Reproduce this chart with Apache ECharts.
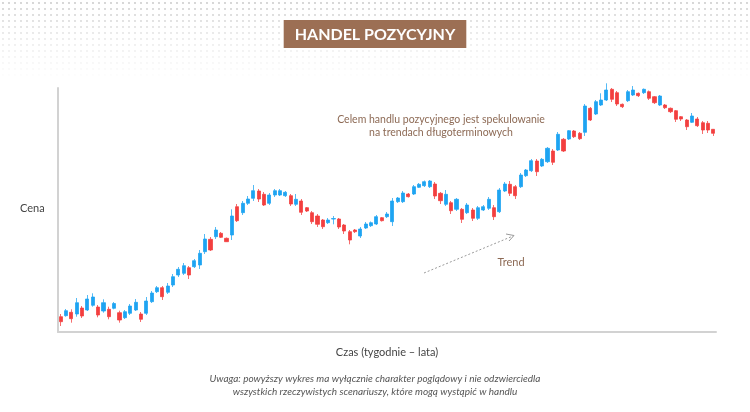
<!DOCTYPE html>
<html>
<head>
<meta charset="utf-8">
<script src="https://cdn.jsdelivr.net/npm/echarts@6/dist/echarts.min.js"></script>
<style>
html,body{margin:0;padding:0;width:750px;height:412px;overflow:hidden;}
body{
  background:
    linear-gradient(to bottom, rgba(255,255,255,0) 0px, rgba(255,255,255,0.6) 40px, #fff 80px),
    radial-gradient(circle, #d6d6d6 0.9px, rgba(255,255,255,0) 1.3px) 0 0/6px 6px,
    #fff;
}
#chart{width:750px;height:412px;}
</style>
</head>
<body>
<div id="chart"></div>
<script>
// Weekly candles (price units, arbitrary scale)
const opens = [15.3,16.3,19.7,18,24,22,26.7,25,21,22.7,23.7,19.3,14.3,18.7,22,18,18.7,
30.3,40.3,44.3,39.7,47,57,58.7,64.3,65.3,67,80.3,92.7,95.3,98.7,93.7,97,125.3,119.3,128.7,133.7,141,137.7,128.7,137,137,136.3,136.3,127.7,131,124.3,119.3,116,112,109.3,
113,113,107,100.3,102,96,104,106.3,108,114.3,115.3,110.3,130.3,130.3,138,138,144.7,146.3,145.3,148,138.7,127.7,129.3,122.7,122.7,119.3,122,113.7,122,123.7,
124.3,120.3,141,147.7,145.3,145.3,156.3,161.3,171,166,170.3,181,182,192.7,193,201,198.7,199.7,223.7,218,227,232,242.7,239.3,227.7,231.3,237,238.7,239.3,240.3,235.3,227,227,223.7,221.3,215.3,212,209.7,213,209.3,208.7,202.7];
const closes = [10.3,21.3,13.3,29.3,16,33,35,17,29.3,15.3,28.5,12,20.3,26,29.7,12.7,31,
39,44.3,35.3,46,55.3,62.7,66.3,57,71.3,78.7,93,82,102,94.7,90.3,116,111.3,128.7,133,141.3,133,127,137,141.3,141.3,139.7,128,132.7,119.7,121,110.3,107.7,105.3,112,
113.4,105,101,92,100.3,103,108,109.3,115.3,111.3,118,131,134,139,135.3,145.3,147.7,150.3,151,136,131.3,137.7,121.3,132.7,112.7,127,113.7,124.3,125.3,132.7,
115.3,142,148,138.7,136.3,157,162,171.3,160.3,172.7,183.7,169.7,197.7,181,201.3,195.3,193.3,226,212,230.3,232,242,232.7,228,225.3,240.3,242,236.3,242.7,233.7,229.3,236,224.3,220.3,212.7,213,205.3,216,206.3,202,202,198.7];
const lows = [6,15.3,9.3,15.3,14,21,25.3,14.7,19.3,12.7,22.7,9.3,13,17,21,10,17,
29,39,32,38,45,55,57,53,64,63,78,81,93,94,90,92,110,117,127,131,130,126,127,135,136,135,126,126,117,120,108,105,103,108,
107.7,103,98,87.7,99,94,103,105,107,110.5,114,106,129,129,134.5,137,144,145,144,133,128,126,118,121,109,118,111,112,121,122,
112,119,140,136,133,144,155,160,156,165,169,167,181,180,192,194,192,196,211,217,226,231,230,226,224,230,236,235,238,232,228,226,223,219,210,211,202,209,205,198,199,196];
const highs = [18,23,22.7,34,26,37,38.7,27,32.7,25.3,30,21.3,22,28,33,20,35,
41,46,46,49,58,65,69,66,73,82,98,95,105,100,94.5,122.7,128,131,136,147,143,140,139,143,143,141,138,138,133,125,121,118,113,114,
116,114,108,102,103,105,110,110.5,117,115,120,134,135,141,139,147,149,151.5,152,150,140,142,131,134,124,129,124,126,127,135,
127,144,150,151,147,159,163,173,173,174,185,183,200,194,202,202,200,228,225,232,238.7,248.7,244,241,228.5,242,246,239.5,243.5,241.5,236,237,228,224.5,222,216,213,219,215,211,211,203];
const weeks = opens.map((_, i) => 'T' + (i + 1));

const titleText = 'HANDEL POZYCYJNY';
const noteLines = ['Celem handlu pozycyjnego jest spekulowanie', 'na trendach długoterminowych'];
const trendLabel = 'Trend';
const yName = 'Cena';
const xName = 'Czas (tygodnie – lata)';
const disclaimer = ['Uwaga: powyższy wykres ma wyłącznie charakter poglądowy i nie odzwierciedla', 'wszystkich rzeczywistych scenariuszy, które mogą wystąpić w handlu'];

const candleData = opens.map((o, i) => [o, closes[i], lows[i], highs[i]]);
const FONT = 'Lato, "Open Sans", sans-serif';
const UP = '#1ea4f2', DOWN = '#f33f3f';

const chart = echarts.init(document.getElementById('chart'), null, {renderer: 'canvas'});
chart.setOption({
  backgroundColor: 'transparent',
  animation: false,
  title: {
    text: titleText,
    left: 'center',
    top: 20,
    backgroundColor: '#9c6f54',
    padding: [5, 11, 4, 11],
    textStyle: {color: '#fff', fontFamily: FONT, fontWeight: 'bold', fontSize: 16, lineHeight: 19}
  },
  grid: {left: 58, right: 34, top: 88, bottom: 80},
  xAxis: {
    type: 'category',
    data: weeks,
    boundaryGap: true,
    axisLine: {show: true, lineStyle: {color: '#d2d2d2', width: 2}},
    axisTick: {show: false},
    axisLabel: {show: false},
    splitLine: {show: false},
    name: xName,
    nameLocation: 'middle',
    nameGap: 15,
    nameTextStyle: {color: '#444', fontFamily: FONT, fontSize: 11}
  },
  yAxis: {
    type: 'value',
    min: 0,
    max: 244,
    axisLine: {show: true, lineStyle: {color: '#d2d2d2', width: 2}},
    axisTick: {show: false},
    axisLabel: {show: false},
    splitLine: {show: false}
  },
  series: [{
    type: 'candlestick',
    data: candleData,
    barWidth: 3.6,
    clip: false,
    itemStyle: {
      color: UP, color0: DOWN,
      borderColor: 'rgba(30,164,242,0.75)', borderColor0: 'rgba(243,63,63,0.75)',
      borderWidth: 1
    }
  }],
  graphic: [
    {type: 'text', left: 20, top: 203, style: {text: yName, fill: '#444', font: '11px ' + FONT}},
    {type: 'text', x: 441, y: 113, style: {text: noteLines.join('\n'), fill: '#8d6a55', font: '10.5px ' + FONT, align: 'center', lineHeight: 13}},
    {type: 'text', x: 511, y: 257, style: {text: trendLabel, fill: '#8d6a55', font: '11px ' + FONT, align: 'center'}},
    {type: 'line', shape: {x1: 424, y1: 273, x2: 513, y2: 236}, style: {stroke: '#9a9a9a', lineWidth: 1, lineDash: [2, 2]}},
    {type: 'polyline', shape: {points: [[506, 234], [514, 235.5], [509, 241]]}, style: {stroke: '#9a9a9a', lineWidth: 1, fill: null}},
    {type: 'text', x: 375, y: 373, style: {text: disclaimer.join('\n'), fill: '#555', font: 'italic 10px ' + FONT, align: 'center', lineHeight: 12.5}}
  ]
});
</script>
</body>
</html>
